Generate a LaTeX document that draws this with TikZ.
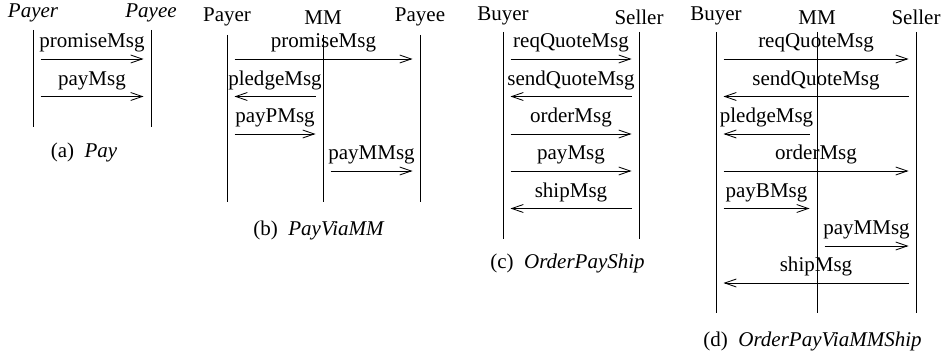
\documentclass[tikz,border=0pt]{standalone}
\usepackage{fontspec}
\setmainfont{Liberation Serif}
\usepackage{tikz}
\usetikzlibrary{arrows.meta,positioning,calc}

% one message: name, start x, end x, height, label
\newcommand{\msg}[5]{%
  \coordinate (#1s) at (#2,#4);
  \coordinate (#1e) at (#3,#4);
  \draw[msg] (#1s) -- node[lbl] {#5} (#1e);
}

\begin{document}
\begin{tikzpicture}[
    x=0.476pt, y=-0.476pt,
    role/.style={anchor=base, inner sep=0pt},
    life/.style={thin},
    msg/.style={thin, -{Straight Barb[length=5.5pt,width=3.8pt]}},
    lbl/.style={above, inner sep=3pt},
    subcap/.style={anchor=base, inner sep=0pt}
]
    \useasboundingbox (0,0) rectangle (944,356);

    % (a) Pay
    \node[role, font=\itshape] (aPayer) at (33,18) {Payer};
    \node[role, font=\itshape] (aPayee) at (151,18) {Payee};
    \coordinate (aPayerEnd) at (33,127);
    \coordinate (aPayeeEnd) at (151,127);
    \draw[life] (aPayer |- 0,30) -- (aPayerEnd);
    \draw[life] (aPayee |- 0,30) -- (aPayeeEnd);
    \msg{a1}{40.5}{143.5}{59}{promiseMsg}
    \msg{a2}{40.5}{143.5}{96.5}{payMsg}
    \node[subcap] (capA) at (84,158) {(a)\enspace\textit{Pay}};

    % (b) PayViaMM
    \node[role] (bPayer) at (227,22) {Payer};
    \node[role] (bMM) at (323,25) {MM};
    \node[role] (bPayee) at (420,22) {Payee};
    \coordinate (bPayerEnd) at (227,202);
    \coordinate (bMMEnd) at (323,202);
    \coordinate (bPayeeEnd) at (420,202);
    \draw[life] (bPayer |- 0,35) -- (bPayerEnd);
    \draw[life] (bMM |- 0,35) -- (bMMEnd);
    \draw[life] (bPayee |- 0,35) -- (bPayeeEnd);
    \msg{b1}{234.5}{412.5}{59}{promiseMsg}
    \msg{b2}{315.5}{234.5}{96.5}{pledgeMsg}
    \msg{b3}{234.5}{315.5}{134}{payPMsg}
    \msg{b4}{330.5}{412.5}{171}{payMMsg}
    \node[subcap] (capB) at (319,235) {(b)\enspace\textit{PayViaMM}};

    % (c) OrderPayShip
    \node[role] (cBuyer) at (503,20.5) {Buyer};
    \node[role] (cSeller) at (639,25) {Seller};
    \coordinate (cBuyerEnd) at (503,239);
    \coordinate (cSellerEnd) at (639,239);
    \draw[life] (cBuyer |- 0,32) -- (cBuyerEnd);
    \draw[life] (cSeller |- 0,32) -- (cSellerEnd);
    \msg{c1}{510.5}{631.5}{59}{reqQuoteMsg}
    \msg{c2}{631.5}{510.5}{96.5}{sendQuoteMsg}
    \msg{c3}{510.5}{631.5}{134}{orderMsg}
    \msg{c4}{510.5}{631.5}{171}{payMsg}
    \msg{c5}{631.5}{510.5}{208.5}{shipMsg}
    \node[subcap] (capC) at (567.5,268) {(c)\enspace\textit{OrderPayShip}};

    % (d) OrderPayViaMMShip
    \node[role] (dBuyer) at (716,20.5) {Buyer};
    \node[role] (dMM) at (817,25) {MM};
    \node[role] (dSeller) at (916,25) {Seller};
    \coordinate (dBuyerEnd) at (716,313);
    \coordinate (dMMEnd) at (817,313);
    \coordinate (dSellerEnd) at (916,313);
    \draw[life] (dBuyer |- 0,32) -- (dBuyerEnd);
    \draw[life] (dMM |- 0,32) -- (dMMEnd);
    \draw[life] (dSeller |- 0,32) -- (dSellerEnd);
    \msg{d1}{723.5}{908.5}{59}{reqQuoteMsg}
    \msg{d2}{908.5}{723.5}{96.5}{sendQuoteMsg}
    \msg{d3}{809.5}{723.5}{134}{pledgeMsg}
    \msg{d4}{723.5}{908.5}{171}{orderMsg}
    \msg{d5}{723.5}{809.5}{208.5}{payBMsg}
    \msg{d6}{824.5}{908.5}{246}{payMMsg}
    \msg{d7}{908.5}{723.5}{283}{shipMsg}
    \node[subcap] (capD) at (812.5,346) {(d)\enspace\textit{OrderPayViaMMShip}};
\end{tikzpicture}
\end{document}
